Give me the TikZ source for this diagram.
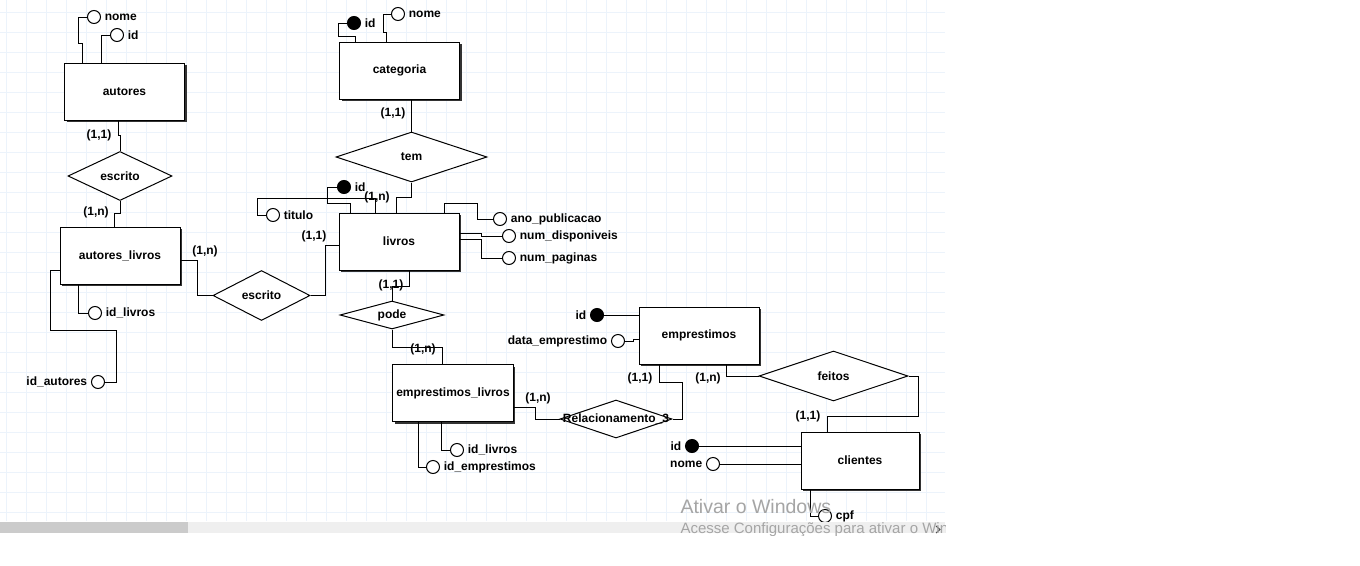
\documentclass[tikz,border=0pt]{standalone}
\usepackage{fontspec}
\setmainfont{Liberation Sans}
\usetikzlibrary{shapes.geometric,shadows}
\definecolor{gridblue}{RGB}{236,243,251}
\definecolor{scrolltrack}{RGB}{239,239,239}
\definecolor{scrollthumb}{RGB}{203,203,203}
\definecolor{wingray}{RGB}{165,165,165}
\newcommand{\erfont}{\fontsize{12}{14}\selectfont\bfseries}

\tikzset{every picture/.style={line width=1pt}}
\tikzset{
  entity/.style={rectangle, draw, fill=white, minimum width=120pt, minimum height=57pt,
    drop shadow={shadow xshift=2pt, shadow yshift=-2pt, opacity=1, fill=black!80}},
  relship/.style={diamond, draw, fill=white, inner sep=0pt},
  attr/.style={circle, draw, fill=white, minimum size=13pt, inner sep=0pt},
  keyattr/.style={attr, fill=black},
  card/.style={inner sep=0pt},
  gridline/.style={draw=gridblue, line width=1pt}
}

\begin{document}
\begin{tikzpicture}[x=1pt, y=-1pt, font=\erfont]
\useasboundingbox (0,0) rectangle (1360,565);
\fill[white] (0,0) rectangle (1360,565);

% grade de fundo
\foreach \gx in {6.5,26.5,...,945} \draw[gridline] (\gx,0) -- (\gx,521);
\foreach \gy in {12.5,32.5,...,520} \draw[gridline] (0,\gy) -- (945,\gy);

% entidades
\node[entity] (autores) at (124.5,91.5) {autores};
\node[entity] (categoria) at (399.5,70.5) {categoria};
\node[entity] (autliv) at (120,255.5) {autores\_livros};
\node[entity] (livros) at (399,241.5) {livros};
\node[entity] (emplivros) at (453,393) {emprestimos\_livros};
\node[entity] (emprestimos) at (699,335.5) {emprestimos};
\node[entity, minimum width=118pt] (clientes) at (860,460.5) {clientes};

% relacionamentos
\node[relship, minimum width=104pt, minimum height=49pt, label=center:escrito] (escritoA) at (120,176) {};
\node[relship, minimum width=97pt, minimum height=50pt, label=center:escrito] (escritoB) at (261.5,295.5) {};
\node[relship, minimum width=151pt, minimum height=50pt, label=center:tem] (tem) at (411.5,157) {};
\node[relship, minimum width=104pt, minimum height=28pt, label=center:pode] (pode) at (392,315) {};
\node[relship, minimum width=112pt, minimum height=38pt, label=center:Relacionamento\_3] (rel3) at (616,419) {};
\node[relship, minimum width=149pt, minimum height=50pt, label=center:feitos] (feitos) at (833.5,376) {};

% atributos
\node[attr, label=right:nome] (autnome) at (94,17) {};
\node[attr, label=right:id] (autid) at (117,35) {};
\node[keyattr, label=right:id] (catid) at (354,23) {};
\node[attr, label=right:nome] (catnome) at (398,14) {};
\node[keyattr, label=right:id] (livid) at (344,187) {};
\node[attr, label=right:titulo] (livtitulo) at (273,215) {};
\node[attr, label=right:ano\_publicacao] (livano) at (500,219) {};
\node[attr, label=right:num\_disponiveis] (livdisp) at (509,236) {};
\node[attr, label=right:num\_paginas] (livpag) at (509,258) {};
\node[attr, label=right:id\_livros] (alidlivros) at (95,313) {};
\node[attr, label=left:id\_autores] (alidautores) at (98,382) {};
\node[attr, label=right:id\_livros] (elidlivros) at (457,450) {};
\node[attr, label=right:id\_emprestimos] (elidemp) at (433,467) {};
\node[keyattr, label=left:id] (empid) at (597,315) {};
\node[attr, label=left:data\_emprestimo] (empdata) at (618,341) {};
\node[keyattr, label=left:id] (cliid) at (692,446) {};
\node[attr, label=left:nome] (clinome) at (713,464) {};
\node[attr, label=right:cpf] (clicpf) at (825,516) {};

% ligacoes dos atributos
\draw (autores.north -| 82,0) -- (82,43) -- (78,43) |- (autnome);
\draw (autores.north -| 101,0) |- (autid);
\draw (categoria.north -| 355,0) -- (355,36) -- (338,36) |- (catid);
\draw (categoria.north -| 386,0) -- (386,32) -- (383,32) |- (catnome);
\draw (livros.north -| 350,0) -- (350,203) -- (327,203) |- (livid);
\draw (livros.north -| 375,0) -- (375,198) -- (257,198) |- (livtitulo);
\draw (livros.north -| 444,0) -- (444,203) -- (477,203) |- (livano);
\draw (livros.east |- 0,233) -- (481,233) |- (livdisp);
\draw (livros.east |- 0,239) -- (481,239) |- (livpag);
\draw (autliv.south -| 78,0) |- (alidlivros);
\draw (autliv.west |- 0,270) -- (50,270) -- (50,330) -- (116,330) |- (alidautores);
\draw (emplivros.south -| 441,0) |- (elidlivros);
\draw (emplivros.south -| 418,0) |- (elidemp);
\draw (empid) -- (emprestimos.west |- empid);
\draw (empdata) -- (633,341) -- (633,339) -- (emprestimos.west |- 0,339);
\draw (cliid) -- (clientes.west |- cliid);
\draw (clinome) -- (clientes.west |- clinome);
\draw (clientes.south -| 810,0) |- (clicpf);

% ligacoes dos relacionamentos
\draw (autores.south -| 118,0) -- (118,135) -- (120,135) -- (escritoA.north);
\draw (escritoA.south) -- (120,213) -- (114,213) -- (autliv.north -| 114,0);
\draw (autliv.east |- 0,260) -- (197,260) |- (escritoB.west);
\draw (escritoB.east) -| (325,245) -- (livros.west |- 0,245);
\draw (tem.north |- categoria.south) -- (tem.north);
\draw (tem.south) -- (411.5,197) -- (396,197) -- (livros.north -| 396,0);
\draw (livros.south -| 409,0) -- (409,286) -- (392,286) -- (pode.north);
\draw (pode.south) |- (442,347) -- (emplivros.north -| 442,0);
\draw (emplivros.east |- 0,407) -- (535,407) |- (rel3.west);
\draw (emprestimos.south -| 659,0) -- (659,382) -- (682,382) |- (rel3.east);
\draw (emprestimos.south -| 726,0) |- (feitos.west);
\draw (feitos.east) -| (918,416) -- (827,416) -- (clientes.north -| 827,0);

% cardinalidades
\node[card] (c1) at (99,135) {(1,1)};
\node[card] (c2) at (96,212) {(1,n)};
\node[card] (c3) at (205,251) {(1,n)};
\node[card] (c4) at (314,236) {(1,1)};
\node[card] (c5) at (393,113) {(1,1)};
\node[card] (c6) at (377,197) {(1,n)};
\node[card] (c7) at (391,285) {(1,1)};
\node[card] (c8) at (423,349) {(1,n)};
\node[card] (c9) at (538,398) {(1,n)};
\node[card] (c10) at (640,378) {(1,1)};
\node[card] (c11) at (708,378) {(1,n)};
\node[card] (c12) at (808,416) {(1,1)};

% barra de rolagem
\fill[scrolltrack] (0,522) rectangle (945,533);
\fill[scrollthumb] (0,522) rectangle (188,533);
\draw[black!70] (936,526) -- (940,529.5) -- (936,533);

% marca d'agua
\begin{scope}
\clip (0,0) rectangle (945,535);
\node[anchor=base west, inner sep=0pt, text=wingray, font=\fontsize{19.5}{22}\selectfont] (winmark) at (680,513) {Ativar o Windows};
\node[anchor=base west, inner sep=0pt, text=wingray, font=\fontsize{15}{17}\selectfont] (winhint) at (680,533) {Acesse Configurações para ativar o Windows.};
\end{scope}
\end{tikzpicture}
\end{document}
